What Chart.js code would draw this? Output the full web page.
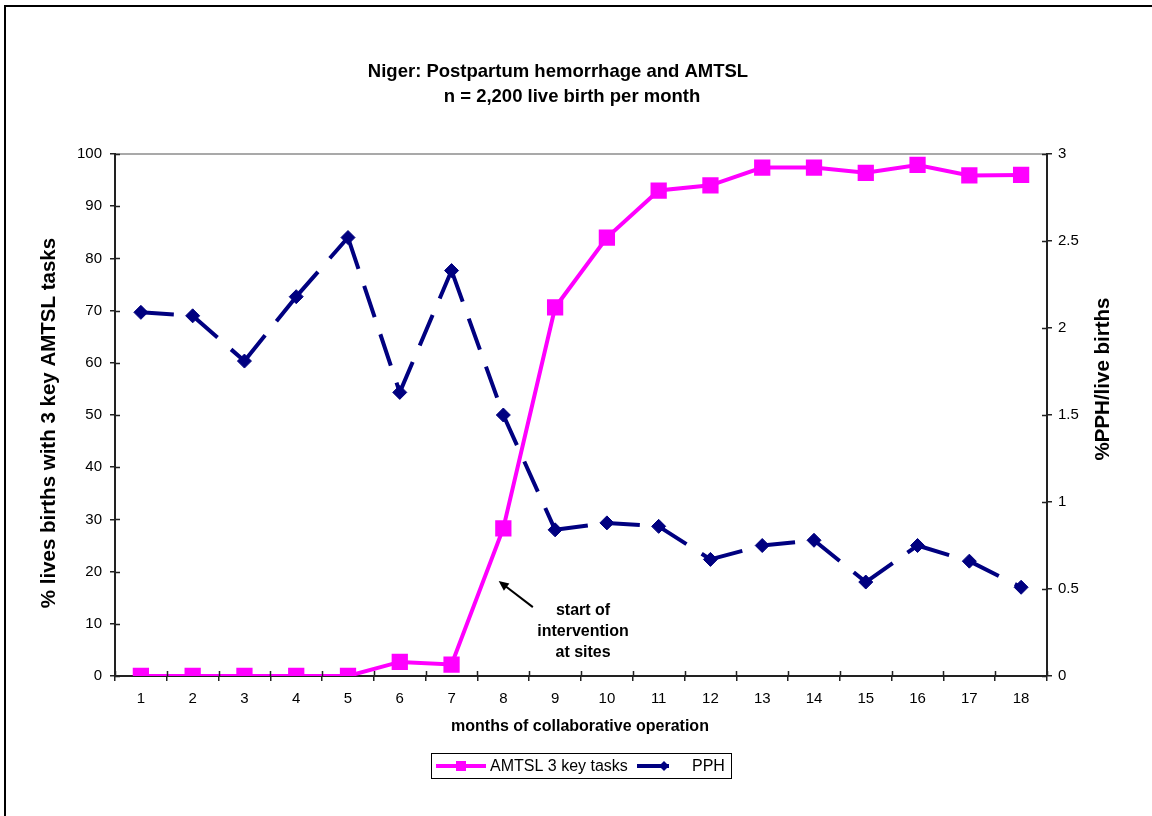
<!DOCTYPE html>
<html>
<head>
<meta charset="utf-8">
<title>Niger: Postpartum hemorrhage and AMTSL</title>
<script src="https://cdn.jsdelivr.net/npm/chart.js@4.4.0/dist/chart.umd.min.js"></script>
<style>
  html, body { margin: 0; padding: 0; background: #fff; }
  canvas { display: block; }
</style>
</head>
<body>
<canvas id="chart" width="1152" height="816"></canvas>
<script>
// Months of collaborative operation
const months = ['1', '2', '3', '4', '5', '6', '7', '8', '9', '10', '11', '12', '13', '14', '15', '16', '17', '18'];

// % of live births with the 3 key AMTSL tasks (left axis)
const amtslPct = [0, 0, 0, 0, 0, 2.7, 2.2, 28.3, 70.6, 84.0, 93.0, 94.0, 97.4, 97.4, 96.4, 97.9, 95.9, 96.0];

// % PPH per live births (right axis)
const pphPct = [2.09, 2.07, 1.81, 2.18, 2.52, 1.63, 2.33, 1.50, 0.84, 0.88, 0.86, 0.67, 0.75, 0.78, 0.54, 0.75, 0.66, 0.51];

const seriesNames = ['AMTSL 3 key tasks', 'PPH'];
const titleLines = ['Niger: Postpartum hemorrhage and AMTSL', 'n = 2,200 live birth per month'];
const leftAxisTitle = '% lives births with 3 key AMTSL tasks';
const rightAxisTitle = '%PPH/live births';
const bottomAxisTitle = 'months of collaborative operation';
const noteLines = ['start of', 'intervention', 'at sites'];

const FONT = "'Liberation Sans', Arial, Helvetica, sans-serif";
const MAGENTA = '#ff00ff';
const NAVY = '#000080';
const AXIS = '#222222';
const DASH = [33, 18];

Chart.defaults.font.family = FONT;
Chart.defaults.color = '#000';

// Frame, titles, inner tick halves, the intervention note and the boxed legend
const decorations = {
  id: 'decorations',
  beforeDraw(chart) {
    const { ctx, chartArea: a } = chart;
    ctx.save();
    ctx.fillStyle = '#fff';
    ctx.fillRect(0, 0, chart.width, chart.height);
    ctx.strokeStyle = '#000';
    ctx.lineWidth = 2;
    ctx.beginPath();
    ctx.moveTo(5, chart.height + 2);
    ctx.lineTo(5, 6);
    ctx.lineTo(chart.width + 2, 6);
    ctx.stroke();
    ctx.strokeStyle = '#8c8c8c';
    ctx.lineWidth = 1.5;
    ctx.beginPath();
    ctx.moveTo(a.left, a.top);
    ctx.lineTo(a.right, a.top);
    ctx.stroke();
    ctx.restore();
  },
  afterDraw(chart) {
    const { ctx, chartArea: a, scales } = chart;
    const sx = scales.x, sy = scales.y, sy1 = scales.y1;
    ctx.save();

    // inner halves of the crossing tick marks
    ctx.strokeStyle = AXIS;
    ctx.lineWidth = 1.5;
    ctx.beginPath();
    sy.ticks.forEach(t => {
      const y = Math.round(sy.getPixelForValue(t.value)) + 0.5;
      ctx.moveTo(a.left, y); ctx.lineTo(a.left + 5, y);
    });
    sy1.ticks.forEach(t => {
      const y = Math.round(sy1.getPixelForValue(t.value)) + 0.5;
      ctx.moveTo(a.right - 5, y); ctx.lineTo(a.right, y);
    });
    for (let i = 0; i <= months.length; i++) {
      const x = Math.round(sx.getPixelForValue(i - 0.5)) + 0.5;
      ctx.moveTo(x, a.bottom); ctx.lineTo(x, a.bottom - 5);
    }
    ctx.stroke();

    // chart title
    ctx.fillStyle = '#000';
    ctx.textAlign = 'center';
    ctx.textBaseline = 'alphabetic';
    ctx.font = 'bold 18.5px ' + FONT;
    ctx.fillText(titleLines[0], 558, 77);
    ctx.fillText(titleLines[1], 572, 102);

    // axis titles
    ctx.font = 'bold 16px ' + FONT;
    ctx.textBaseline = 'middle';
    ctx.fillText(bottomAxisTitle, 580, 727);

    ctx.font = 'bold 20.5px ' + FONT;
    ctx.save();
    ctx.translate(49, 423);
    ctx.rotate(-Math.PI / 2);
    ctx.fillText(leftAxisTitle, 0, 0);
    ctx.restore();
    ctx.save();
    ctx.translate(1103, 379);
    ctx.rotate(-Math.PI / 2);
    ctx.fillText(rightAxisTitle, 0, 0);
    ctx.restore();

    // intervention note with arrow, placed in data units
    const tipX = sx.getPixelForValue(6.91), tipY = sy.getPixelForValue(18.2);
    const tailX = sx.getPixelForValue(7.57), tailY = sy.getPixelForValue(13.2);
    ctx.strokeStyle = '#000';
    ctx.fillStyle = '#000';
    ctx.lineWidth = 2;
    const ang = Math.atan2(tipY - tailY, tipX - tailX);
    ctx.beginPath();
    ctx.moveTo(tailX, tailY);
    ctx.lineTo(tipX - 5 * Math.cos(ang), tipY - 5 * Math.sin(ang));
    ctx.stroke();
    ctx.beginPath();
    ctx.moveTo(tipX, tipY);
    ctx.lineTo(tipX - 10 * Math.cos(ang) + 4.5 * Math.sin(ang), tipY - 10 * Math.sin(ang) - 4.5 * Math.cos(ang));
    ctx.lineTo(tipX - 10 * Math.cos(ang) - 4.5 * Math.sin(ang), tipY - 10 * Math.sin(ang) + 4.5 * Math.cos(ang));
    ctx.closePath();
    ctx.fill();

    ctx.font = 'bold 16px ' + FONT;
    ctx.textAlign = 'center';
    ctx.textBaseline = 'middle';
    const noteX = sx.getPixelForValue(8.54);
    const noteY = [12.5, 8.5, 4.5];
    noteLines.forEach((s, i) => ctx.fillText(s, noteX, sy.getPixelForValue(noteY[i])));

    // legend box
    ctx.strokeStyle = '#000';
    ctx.lineWidth = 1;
    ctx.strokeRect(431.5, 753.5, 300, 25);
    const ly = 766;
    const ds = chart.data.datasets;
    ctx.lineWidth = 4;
    ctx.strokeStyle = ds[0].borderColor;
    ctx.beginPath(); ctx.moveTo(436, ly); ctx.lineTo(486, ly); ctx.stroke();
    ctx.fillStyle = ds[0].pointBackgroundColor;
    ctx.fillRect(456, ly - 5, 10, 10);
    ctx.strokeStyle = ds[1].borderColor;
    ctx.beginPath(); ctx.moveTo(637, ly); ctx.lineTo(669, ly); ctx.stroke();
    ctx.fillStyle = ds[1].pointBackgroundColor;
    ctx.beginPath();
    ctx.moveTo(664, ly - 5); ctx.lineTo(669, ly); ctx.lineTo(664, ly + 5); ctx.lineTo(659, ly);
    ctx.closePath(); ctx.fill();
    ctx.fillStyle = '#000';
    ctx.font = '16px ' + FONT;
    ctx.textAlign = 'left';
    ctx.fillText(ds[0].label, 490, ly + 1);
    ctx.fillText(ds[1].label, 692, ly + 1);

    ctx.restore();
  }
};

const axisGrid = {
  drawOnChartArea: false,
  drawTicks: true,
  tickLength: 5,
  color: AXIS,
  lineWidth: 1.5
};
const axisBorder = { display: true, color: AXIS, width: 2 };
const plainNumber = v => String(Number(v));

new Chart(document.getElementById('chart'), {
  type: 'line',
  data: {
    labels: months,
    datasets: [
      {
        label: seriesNames[0],
        data: amtslPct,
        yAxisID: 'y',
        order: 2,
        borderColor: MAGENTA,
        backgroundColor: MAGENTA,
        borderWidth: 4,
        pointStyle: 'rect',
        pointRadius: 11.5,
        pointBorderWidth: 0,
        pointBackgroundColor: MAGENTA,
        pointBorderColor: MAGENTA,
        tension: 0,
        fill: false
      },
      {
        label: seriesNames[1],
        data: pphPct,
        yAxisID: 'y1',
        order: 1,
        borderColor: NAVY,
        backgroundColor: NAVY,
        borderWidth: 4,
        borderDash: DASH,
        // restart the dash pattern at every point (offset is a whole pattern length)
        segment: {
          borderDashOffset: c => c.p0DataIndex * (DASH[0] + DASH[1])
        },
        pointStyle: 'rectRot',
        pointRadius: 7,
        pointBorderWidth: 1,
        pointBackgroundColor: NAVY,
        pointBorderColor: NAVY,
        tension: 0,
        fill: false
      }
    ]
  },
  options: {
    responsive: false,
    animation: false,
    events: [],
    layout: { padding: { top: 154, left: 0, right: 0, bottom: 0 } },
    plugins: {
      legend: { display: false },
      title: { display: false },
      tooltip: { enabled: false }
    },
    scales: {
      x: {
        type: 'category',
        offset: true,
        grid: Object.assign({}, axisGrid, { offset: true }),
        border: axisBorder,
        ticks: { font: { size: 15 }, color: '#000', padding: 9, autoSkip: false, maxRotation: 0 },
        afterFit: s => { s.height = 140; }
      },
      y: {
        position: 'left',
        min: 0,
        max: 100,
        grid: axisGrid,
        border: axisBorder,
        ticks: { stepSize: 10, font: { size: 15 }, color: '#000', padding: 8, callback: plainNumber },
        afterFit: s => { s.width = 115; }
      },
      y1: {
        position: 'right',
        min: 0,
        max: 3,
        grid: axisGrid,
        border: axisBorder,
        ticks: { stepSize: 0.5, font: { size: 15 }, color: '#000', padding: 6, callback: plainNumber },
        afterFit: s => { s.width = 105; }
      }
    }
  },
  plugins: [decorations]
});
</script>
</body>
</html>
